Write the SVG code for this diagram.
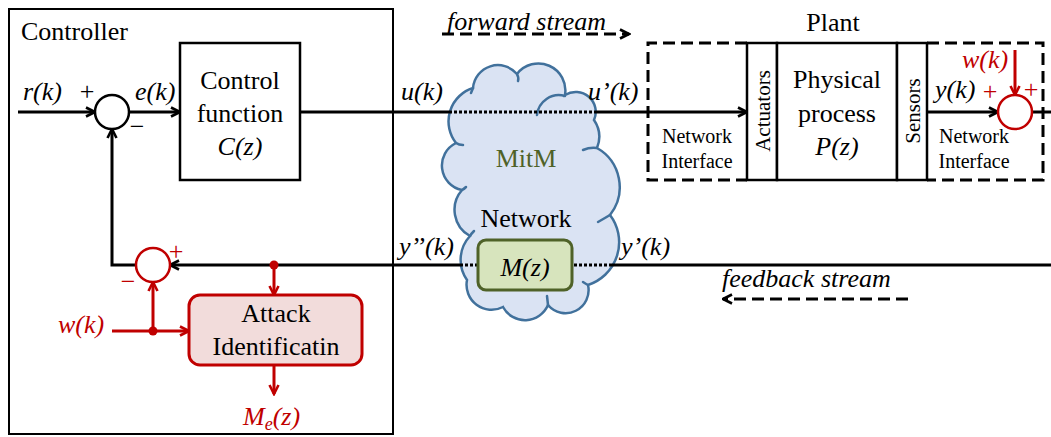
<svg xmlns="http://www.w3.org/2000/svg" width="1051" height="437" viewBox="0 0 1051 437">
  <style>
    text { font-family: "Liberation Serif", "Times New Roman", serif; font-size: 26px; fill: #000; }
    .it { font-style: italic; }
    .sm { font-size: 20px; }
    .vt { font-size: 21px; }
    .red { fill: #c00000; }
    .olive { fill: #4f6228; }
    .box { fill: #fff; stroke: #000; stroke-width: 2.5; }
    .dash { fill: none; stroke: #000; stroke-width: 3; stroke-dasharray: 12 6; }
    .wire { fill: none; stroke: #000; stroke-width: 3; }
    .wireR { fill: none; stroke: #c00000; stroke-width: 3; }
    .dot { fill: none; stroke: #000; stroke-width: 3; stroke-dasharray: 3 2; }
    .sum { fill: #fff; stroke: #000; stroke-width: 2.5; }
    .sumR { fill: #fff; stroke: #c00000; stroke-width: 2.5; }
  </style>
  <defs>
    <marker id="arr" viewBox="0 0 12 12" refX="10.5" refY="6" markerWidth="12" markerHeight="12" markerUnits="userSpaceOnUse" orient="auto">
      <path d="M1.5,1.5 L10.5,6 L1.5,10.5" fill="none" stroke="#000" stroke-width="2.6" stroke-dasharray="none"/>
    </marker>
    <marker id="arrR" viewBox="0 0 12 12" refX="10.5" refY="6" markerWidth="12" markerHeight="12" markerUnits="userSpaceOnUse" orient="auto">
      <path d="M1.5,1.5 L10.5,6 L1.5,10.5" fill="none" stroke="#c00000" stroke-width="2.6" stroke-dasharray="none"/>
    </marker>
  </defs>

  <!-- Controller frame -->
  <g id="controller">
    <rect x="9" y="9" width="384" height="425" fill="none" stroke="#000" stroke-width="2"/>
    <text x="21" y="40">Controller</text>
  </g>

  <!-- Network cloud (MitM) -->
  <g id="network">
    <path d="M456,143 A35,35 0 0 1 473,88 A25,25 0 0 1 517,74 A27,27 0 0 1 565,95 A20,20 0 0 1 594,120 A30,30 0 0 1 597,148 A45,45 0 0 1 610,215 A45,45 0 0 1 588,285 A23,23 0 0 1 548,305 A25,25 0 0 1 503,307 A25,25 0 0 1 467,280 A35,35 0 0 1 470,236 A30,30 0 0 1 462,190 A25,25 0 0 1 456,143 Z" fill="#dae3f3" stroke="#41719c" stroke-width="2.5"/>
    <g fill="none" stroke="#41719c" stroke-width="2.5" stroke-linecap="round">
      <path d="M473,88 L471,93"/>
      <path d="M517,74 Q519,78 518,81"/>
      <path d="M537,115 A22,22 0 0 1 565,96"/>
      <path d="M583,150 Q590,147 597,148"/>
      <path d="M598,222 Q605,218 610,215"/>
      <path d="M583,282 Q586,284 588,285"/>
      <path d="M547,296 L548,305"/>
      <path d="M474,231 Q471,234 470,236"/>
      <path d="M466,187 Q464,189 462,190"/>
      <path d="M463,145 Q459,145 456,143"/>
    </g>
    <text class="olive" x="526" y="167" text-anchor="middle">MitM</text>
    <text x="526" y="227" text-anchor="middle">Network</text>
  </g>

  <!-- Connectors -->
  <g id="connectors">
    <!-- forward path -->
    <line class="wire" x1="18" y1="112" x2="95" y2="112" marker-end="url(#arr)"/>
    <line class="wire" x1="129" y1="112" x2="180" y2="112" marker-end="url(#arr)"/>
    <line class="wire" x1="300" y1="112" x2="449" y2="112"/>
    <line class="dot" x1="449" y1="112" x2="596" y2="112"/>
    <line class="wire" x1="596" y1="112" x2="747" y2="112" marker-end="url(#arr)"/>
    <!-- sensor output -->
    <line class="wire" x1="927" y1="112" x2="998" y2="112" marker-end="url(#arr)"/>
    <line class="wire" x1="1032" y1="112" x2="1051" y2="112"/>
    <line class="wireR" x1="1015" y1="50" x2="1015" y2="95" marker-end="url(#arrR)"/>
    <!-- feedback path -->
    <line class="wire" x1="1051" y1="265" x2="612" y2="265"/>
    <line class="dot" x1="612" y1="265" x2="572" y2="265"/>
    <line class="dot" x1="478" y1="265" x2="460" y2="265"/>
    <line class="wire" x1="460" y1="265" x2="170" y2="265" marker-end="url(#arr)"/>
    <polyline class="wire" points="136,265 112,265 112,129" marker-end="url(#arr)"/>
    <!-- attack identification wiring -->
    <line class="wireR" x1="274" y1="265" x2="274" y2="295" marker-end="url(#arrR)"/>
    <circle cx="274" cy="265" r="4.5" fill="#c00000"/>
    <line class="wireR" x1="112" y1="331" x2="189" y2="331" marker-end="url(#arrR)"/>
    <line class="wireR" x1="153" y1="331" x2="153" y2="282" marker-end="url(#arrR)"/>
    <circle cx="153" cy="331" r="4.5" fill="#c00000"/>
    <line class="wireR" x1="274" y1="365" x2="274" y2="394" marker-end="url(#arrR)"/>
    <!-- stream direction hints -->
    <line class="dash" x1="442" y1="34" x2="629" y2="34" stroke-dasharray="10 5" marker-end="url(#arr)"/>
    <line class="dash" x1="908" y1="299" x2="723" y2="299" stroke-dasharray="10 5" marker-end="url(#arr)"/>
  </g>

  <!-- Summing junctions -->
  <g id="sum-error">
    <circle class="sum" cx="112" cy="112" r="17"/>
    <text x="87" y="100" text-anchor="middle" font-size="24">+</text>
    <text x="137" y="135" text-anchor="middle" font-size="24">−</text>
  </g>
  <g id="sum-feedback">
    <circle class="sumR" cx="153" cy="265" r="17"/>
    <text class="red" x="176" y="260" text-anchor="middle" font-size="24">+</text>
    <text class="red" x="128" y="290" text-anchor="middle" font-size="24">−</text>
  </g>
  <g id="sum-sensor">
    <circle class="sumR" cx="1015" cy="112" r="17"/>
    <text class="red" x="990" y="100" text-anchor="middle" font-size="24">+</text>
    <text class="red" x="1031" y="98" text-anchor="middle" font-size="24">+</text>
  </g>

  <!-- Control function -->
  <g id="control-function">
    <rect class="box" x="180" y="43" width="120" height="137"/>
    <text x="240" y="89" text-anchor="middle">Control</text>
    <text x="240" y="122" text-anchor="middle">function</text>
    <text class="it" x="240" y="155" text-anchor="middle">C(z)</text>
  </g>

  <!-- Plant -->
  <g id="plant">
    <text x="833" y="31" text-anchor="middle">Plant</text>
    <path class="dash" d="M747,43 H648 V180 H747"/>
    <path class="dash" d="M927,43 H1043 V180 H927"/>
    <rect class="box" x="747" y="43" width="30" height="137"/>
    <rect class="box" x="777" y="43" width="120" height="137"/>
    <rect class="box" x="897" y="43" width="30" height="137"/>
    <text class="vt" x="770" y="111" text-anchor="middle" transform="rotate(-90 770 111)">Actuators</text>
    <text class="vt" x="920" y="111" text-anchor="middle" transform="rotate(-90 920 111)">Sensors</text>
    <text x="837" y="88" text-anchor="middle">Physical</text>
    <text x="837" y="122" text-anchor="middle">process</text>
    <text class="it" x="837" y="155" text-anchor="middle">P(z)</text>
    <text class="sm" x="697" y="143" text-anchor="middle">Network</text>
    <text class="sm" x="697" y="168" text-anchor="middle">Interface</text>
    <text class="sm" x="974" y="143" text-anchor="middle">Network</text>
    <text class="sm" x="974" y="168" text-anchor="middle">Interface</text>
  </g>

  <!-- Manipulation block -->
  <g id="manipulation">
    <rect x="478" y="240" width="94" height="50" rx="8" fill="#d7e4bd" stroke="#4f6228" stroke-width="3"/>
    <text class="it" x="525" y="276" text-anchor="middle">M(z)</text>
  </g>

  <!-- Attack identification -->
  <g id="attack-identification">
    <rect x="189" y="295" width="173" height="70" rx="11" fill="#f2dcdb" stroke="#c00000" stroke-width="3"/>
    <text x="276" y="322" text-anchor="middle">Attack</text>
    <text x="276" y="355" text-anchor="middle">Identificatin</text>
  </g>

  <!-- Signal labels -->
  <g id="labels">
    <text class="it" x="23" y="100">r(k)</text>
    <text class="it" x="135" y="100">e(k)</text>
    <text class="it" x="401" y="100">u(k)</text>
    <text class="it" x="588" y="100">u’(k)</text>
    <text class="it" x="935" y="98">y(k)</text>
    <text class="it red" x="962" y="68">w(k)</text>
    <text class="it" x="399" y="255">y’’(k)</text>
    <text class="it" x="621" y="255">y’(k)</text>
    <text class="it red" x="58" y="333">w(k)</text>
    <text class="it red" x="243" y="425">M<tspan font-size="18" dy="5">e</tspan><tspan dy="-5">(z)</tspan></text>
    <text class="it" x="447" y="30">forward stream</text>
    <text class="it" x="722" y="287">feedback stream</text>
  </g>
</svg>
